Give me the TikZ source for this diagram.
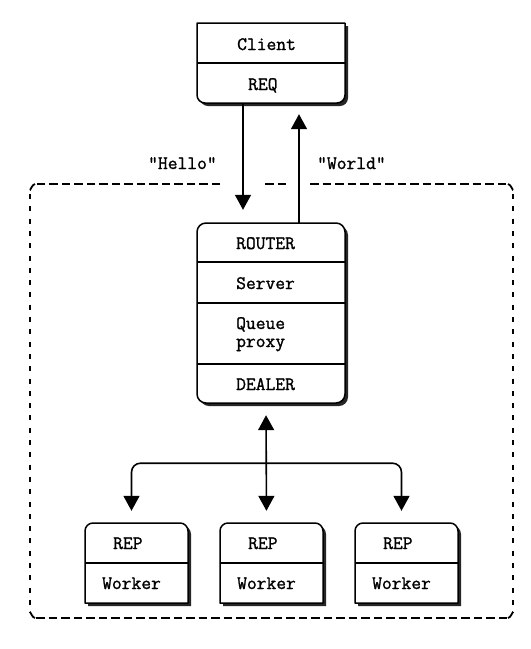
\documentclass[tikz,border=0pt]{standalone}
\usepackage{fontspec}
\newfontfamily\boxfont[FakeBold=1.3]{Latin Modern Mono}
\usetikzlibrary{arrows.meta,calc}
\tikzset{
  boxline/.style={line width=1.5pt, draw=black, fill=white, line join=round},
  shade/.style={fill=black!85, xshift=3pt, yshift=-3pt},
  divline/.style={line width=1.5pt},
  arr/.style={line width=1.6pt, -{Triangle[width=16pt,length=15pt]}},
  arrtwo/.style={line width=1.6pt, {Triangle[width=16pt,length=15pt]}-{Triangle[width=16pt,length=15pt]}},
  lbl/.style={font=\boxfont\fontsize{19}{22}\selectfont, inner sep=0pt, anchor=base west},
  area/.style={inner sep=0pt, draw=none},
  hdash/.style={line width=1.8pt, dash pattern=on 8.5pt off 4pt},
  vdash/.style={line width=1.8pt, dash pattern=on 5pt off 7.3pt},
}
\newcommand\shbox[1]{\fill[shade] #1; \draw[boxline] #1;}
\begin{document}
\begin{tikzpicture}[x=1pt,y=-1pt]
\useasboundingbox (0,0) rectangle (531,649);
% dashed boundary
\draw[hdash] (220,184) -- (35,184);
\draw[hdash] (265,184) -- (288,184);
\draw[hdash] (310,184) -- (508,184);
\draw[line width=1.8pt] (35,184) to[out=180,in=-90] (30,189);
\draw[line width=1.8pt] (508,184) to[out=0,in=-90] (513,189);
\draw[vdash] (30,194) -- (30,613);
\draw[vdash] (513,194) -- (513,613);
\draw[line width=1.8pt] (30,613) to[out=90,in=180] (35,618);
\draw[line width=1.8pt] (513,613) to[out=90,in=0] (508,618);
\draw[hdash] (36,618) -- (507,618);
% Client
\shbox{(197,63) -- (197,23) -- (345,23) -- (345,63) [rounded corners=8pt] -- (345,103) -- (197,103) -- cycle}
\draw[divline] (197,63) -- (345,63);
\node[area, minimum width=148pt, minimum height=80pt] (client) at (271,63) {};
\node[lbl] (tclient) at (237,50) {Client};
\node[lbl] (treq) at (248,90) {REQ};
% Router
\shbox{[rounded corners=9pt] (197,223) rectangle (345,403)}
\draw[divline] (197,262) -- (345,262);
\draw[divline] (197,303) -- (345,303);
\draw[divline] (197,364) -- (345,364);
\node[area, minimum width=148pt, minimum height=180pt] (router) at (271,313) {};
\node[lbl] (trouter) at (236,249) {ROUTER};
\node[lbl] (tserver) at (236,289) {Server};
\node[lbl] (tqueue) at (236,329) {Queue};
\node[lbl] (tproxy) at (236,347) {proxy};
\node[lbl] (tdealer) at (236,390) {DEALER};
% Workers
\foreach \L/\n in {85/1,220/2,355/3}{
  \pgfmathsetmacro\R{\L+103}
  \shbox{(\L,563) [rounded corners=8pt] -- (\L,523) -- (\R,523) -- (\R,563) [sharp corners] -- (\R,603) -- (\L,603) -- cycle}
  \draw[divline] (\L,563) -- (\R,563);
  \node[area, minimum width=103pt, minimum height=80pt] (w\n) at ({\L+51.5},563) {};
  \node[lbl] (trep\n) at ({\L+28},549) {REP};
  \node[lbl] (twork\n) at ({\L+17},589) {Worker};
}
% labels
\node[lbl] (hello) at (148,169) {"Hello"};
\node[lbl] (world) at (317,169) {"World"};
% connectors
\coordinate (hx) at (243,0);
\coordinate (wx) at (299,0);
\draw[arr, shorten >=13pt] (client.south -| hx) -- (router.north -| hx);
\draw[arr, shorten >=11pt] (router.north -| wx) -- (client.south -| wx);
\coordinate (hub) at ($(router.south)+(-5,60)$);
\draw[arrtwo, shorten <=12pt, shorten >=12pt] ($(router.south)+(-5,0)$) -- ($(w2.north)+(-5,0)$);
\draw[arr, rounded corners=9pt, shorten >=12pt] (hub) -| ($(w1.north)+(-5,0)$);
\draw[arr, rounded corners=9pt, shorten >=12pt] (hub) -| ($(w3.north)+(-5,0)$);
\end{tikzpicture}
\end{document}
